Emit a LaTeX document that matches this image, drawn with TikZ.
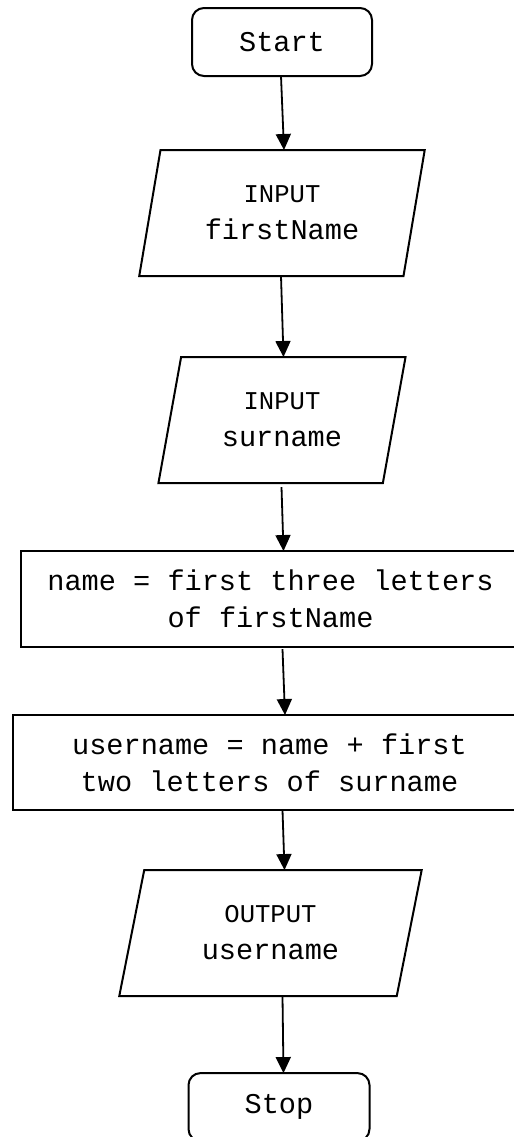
\documentclass[tikz,border=0pt]{standalone}
\usepackage{fontspec}
\newfontfamily\flowfont{Liberation Mono}
\usetikzlibrary{shapes.geometric,arrows.meta,positioning}
\newcommand{\kwfont}{\fontsize{12.8}{18.5}\selectfont}

\begin{document}
\begin{tikzpicture}[
    box/.style={draw, line width=1pt, inner sep=0pt, outer sep=0pt, align=center, font=\flowfont\fontsize{14.3}{18.5}\selectfont},
    terminal/.style={box, rectangle, rounded corners=6pt, minimum width=90pt, minimum height=34pt},
    io/.style={box, trapezium, trapezium left angle=76, trapezium right angle=104, trapezium stretches=true, minimum height=63pt},
    process/.style={box, rectangle, minimum height=48pt},
    arrow/.style={-{Triangle[width=7.5pt,length=8pt]}, line width=0.9pt}
]
\useasboundingbox (0,0) rectangle (257pt,-568.5pt);

% Terminals and inputs
\node[terminal] (start) at (141pt,-21pt) {Start};
\node[io, minimum width=143pt, below=37pt of start] (in_first) {{\kwfont INPUT}\\firstName};
\node[io, minimum width=124.5pt, below=40.5pt of in_first] (in_sur) {{\kwfont INPUT}\\surname};

% Processing
\node[process, minimum width=250pt, below=34pt of in_sur, xshift=-5.75pt] (name_proc) {name = first three letters\\of firstName};
\node[process, minimum width=257pt, minimum height=47.5pt, below=34pt of name_proc, xshift=-0.5pt] (user_proc) {username = name + first\\two letters of surname};

% Output
\node[io, minimum width=152pt, below=30pt of user_proc, xshift=0.5pt] (out_user) {{\kwfont OUTPUT}\\username};
\node[terminal, minimum width=90.5pt, below=38.5pt of out_user, xshift=4.25pt] (stop) {Stop};

% Arrows
\draw[arrow] ([xshift=-0.5pt]start.south) -- ([xshift=1pt]in_first.north);
\draw[arrow] ([xshift=-0.5pt]in_first.south) -- ([xshift=0.75pt]in_sur.north);
\draw[arrow] ([xshift=-0.25pt,yshift=-2pt]in_sur.south) -- ([xshift=6.5pt]name_proc.north);
\draw[arrow] ([xshift=6pt,yshift=-1pt]name_proc.south) -- ([xshift=7.75pt]user_proc.north);
\draw[arrow] ([xshift=6.5pt]user_proc.south) -- ([xshift=7pt]out_user.north);
\draw[arrow] ([xshift=6pt]out_user.south) -- ([xshift=2.25pt]stop.north);

\end{tikzpicture}
\end{document}
